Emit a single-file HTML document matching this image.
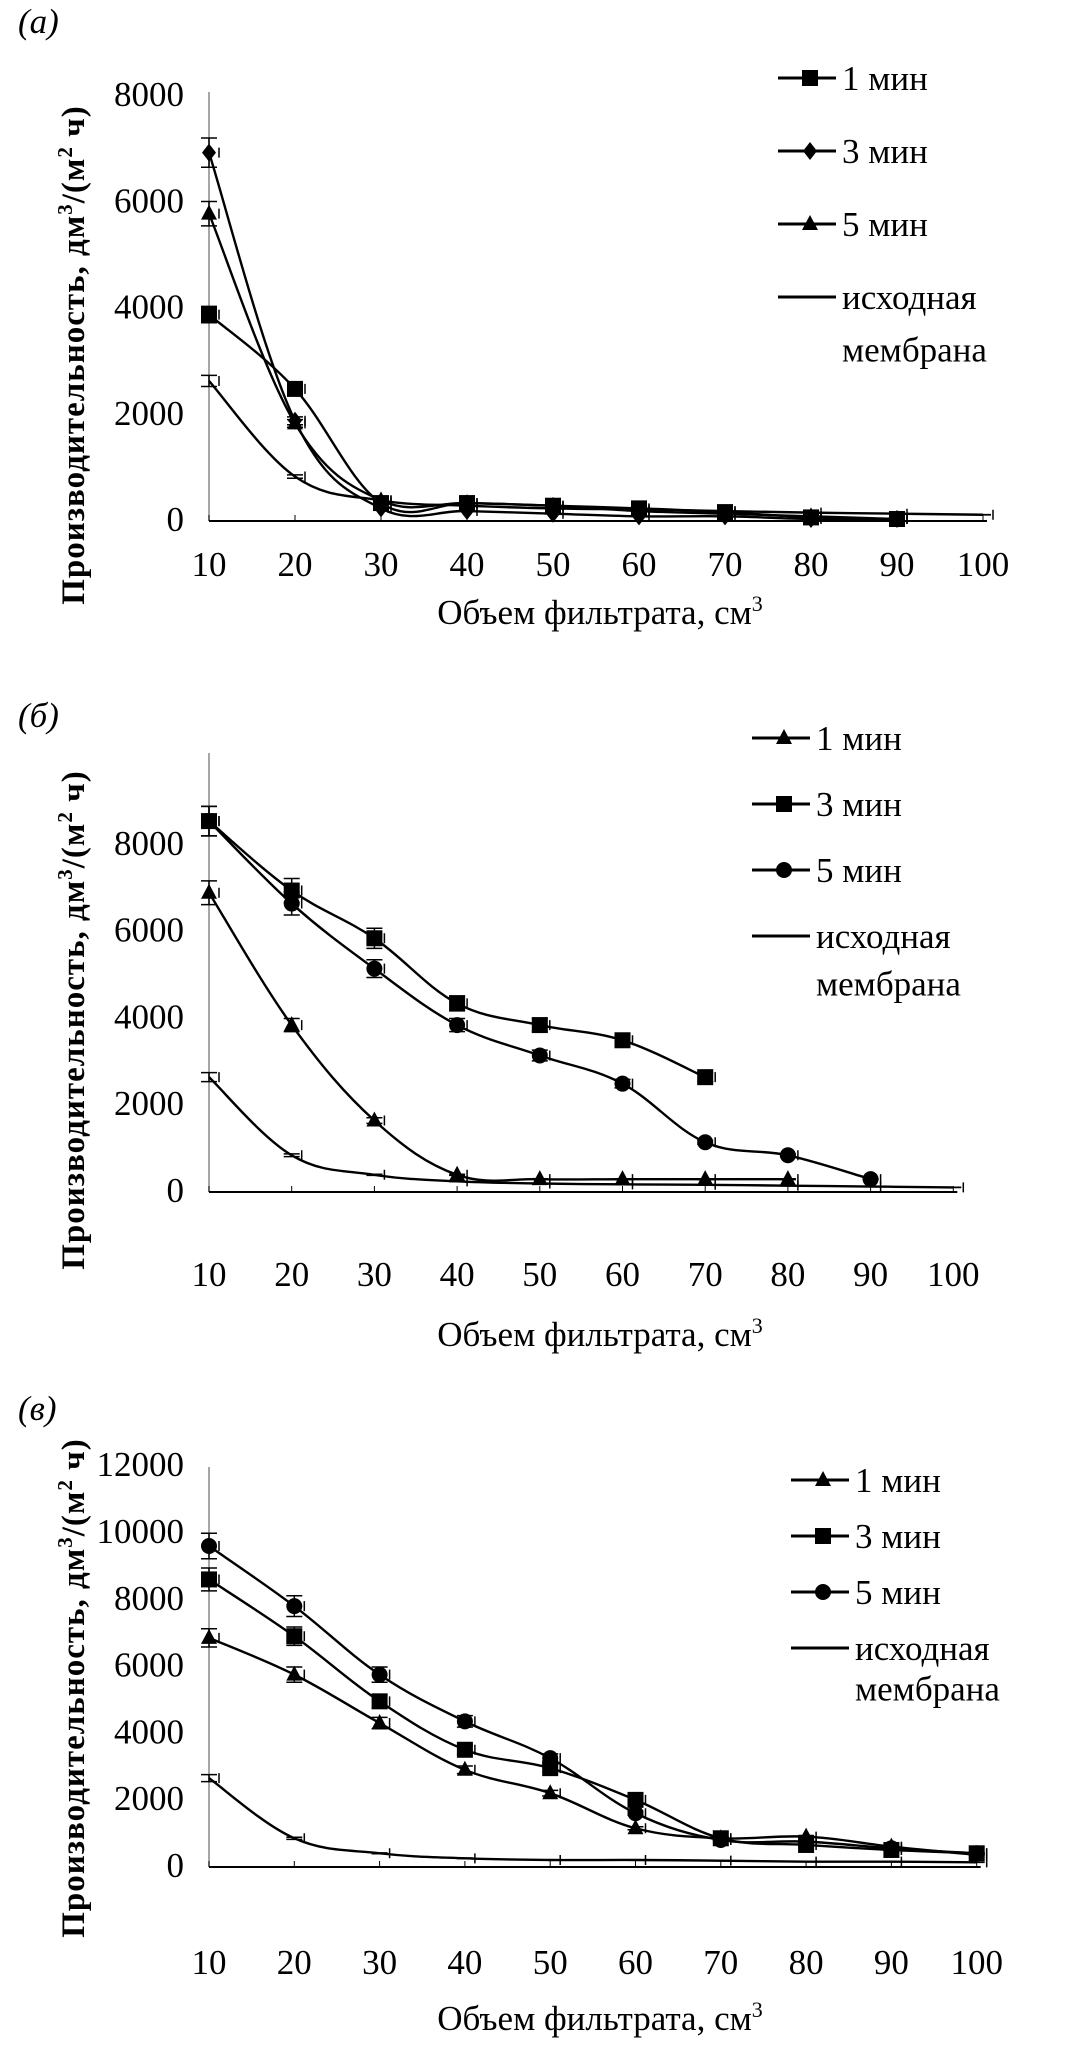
<!DOCTYPE html>
<html><head><meta charset="utf-8"><style>
body{margin:0;background:#fff;}
svg{display:block;font-family:"Liberation Serif",serif;}
</style></head>
<body>
<svg id="s" width="1085" height="2061" viewBox="0 0 1085 2061"></svg>
<script>
const xCats=[10,20,30,40,50,60,70,80,90,100];
// Panel a
const aS1=[3850,2450,300,300,250,200,130,30,0];
const aS3=[6900,1850,200,150,100,50,50,0,0];
const aS5=[5750,1800,350,300,250,150,100,50,0];
const aBase=[2600,800,350,250,200,180,150,120,100,80];
const aTicks=[0,2000,4000,6000,8000];
// Panel b
const bS1=[6850,3800,1600,350,250,250,250,250];
const bS3=[8500,6900,5800,4300,3800,3450,2600];
const bS5=[8500,6600,5100,3800,3100,2450,1100,800,250];
const bBase=[2600,800,350,200,150,130,120,100,80,60];
const bTicks=[0,2000,4000,6000,8000];
// Panel c
const cS1=[6800,5700,4250,2850,2150,1100,800,850,550,300];
const cS3=[8550,6850,4900,3450,2900,1950,800,600,450,350];
const cS5=[9550,7750,5700,4300,3200,1550,750,700,500,350];
const cBase=[2600,800,350,200,150,150,130,100,100,80];
const cTicks=[0,2000,4000,6000,8000,10000,12000];

const NS="http://www.w3.org/2000/svg";
const svg=document.getElementById('s');
const FS=35;
function el(tag,attrs,parent){const e=document.createElementNS(NS,tag);for(const k in attrs)e.setAttribute(k,attrs[k]);(parent||svg).appendChild(e);return e;}
function txt(s,attrs,parent){const e=el('text',attrs,parent);e.textContent=s;return e;}
function smooth(pts){let d='M'+pts[0][0]+','+pts[0][1];for(let i=0;i<pts.length-1;i++){const p0=pts[i-1]||pts[i],p1=pts[i],p2=pts[i+1],p3=pts[i+2]||p2;const t=0.18;d+=' C'+(p1[0]+(p2[0]-p0[0])*t)+','+(p1[1]+(p2[1]-p0[1])*t)+' '+(p2[0]-(p3[0]-p1[0])*t)+','+(p2[1]-(p3[1]-p1[1])*t)+' '+p2[0]+','+p2[1];}return d;}
function marker(g,type,x,y){
 if(type==='sq')el('rect',{x:x-8,y:y-8,width:16,height:16,fill:'#000'},g);
 else if(type==='tri')el('polygon',{points:`${x},${y-9} ${x-8},${y+6} ${x+8},${y+6}`,fill:'#000'},g);
 else if(type==='dia')el('polygon',{points:`${x},${y-9} ${x-7},${y} ${x},${y+9} ${x+7},${y}`,fill:'#000'},g);
 else if(type==='cir')el('circle',{cx:x,cy:y,r:8,fill:'#000'},g);
}
function panel(cfg){
 const g=el('g',{},svg);
 
 
 const X=v=>cfg.x0+(v-10)*cfg.dx/10, Y=v=>cfg.y0-v*cfg.dy/1000;
 const ax=el('line',{x1:X(10),y1:cfg.top,x2:X(10),y2:cfg.y0+2,stroke:'#888','stroke-width':1.5},g);
 
 const bx=el('line',{x1:X(10),y1:cfg.y0+2,x2:X(100)+4,y2:cfg.y0+2,stroke:'#000','stroke-width':2},g);
 
 cfg.ticks.forEach(t=>{const e=txt(String(t),{x:184,y:Y(t)+12,'text-anchor':'end','font-size':FS},g);
  });
 xCats.forEach(c=>{const e=txt(String(c),{x:X(c),y:cfg.xly,'text-anchor':'middle','font-size':FS},g);
  
  el('line',{x1:X(c),y1:cfg.y0-4,x2:X(c),y2:cfg.y0+2,stroke:'#000','stroke-width':1},g);});
 cfg.series.forEach(s=>{
  const pts=s.v.map((v,i)=>[X(xCats[i]),Y(v)]);
  const p=el('path',{d:smooth(pts),fill:'none',stroke:'#000','stroke-width':2.4},g);
  
  pts.forEach((pt,i)=>{const e=Math.max(3,s.v[i]*0.04);
   el('path',{d:`M${pt[0]},${pt[1]-e*cfg.dy/1000}V${pt[1]+e*cfg.dy/1000}M${pt[0]-8},${pt[1]-e*cfg.dy/1000}h16M${pt[0]-8},${pt[1]+e*cfg.dy/1000}h16M${pt[0]+10},${pt[1]-5}v10`,stroke:'#000','stroke-width':1.5,fill:'none'},g);
   if(s.m){const m=el('g',{},g);marker(m,s.m,pt[0],pt[1]);}
  });
 });
 cfg.legend.forEach((l,i)=>{const lg=el('g',{},g);
  const y=cfg.ly+i*cfg.lsp;el('line',{x1:cfg.lx,y1:y,x2:cfg.lx+58,y2:y,stroke:'#000','stroke-width':3},lg);
  if(l.m)marker(lg,l.m,cfg.lx+32,y);
  txt(l.t,{x:cfg.lx+64,y:y+12,'font-size':FS},lg);
  if(l.t2)txt(l.t2,{x:cfg.lx+64,y:y+12+cfg.lsp*0.72,'font-size':FS},lg);});
 const pl=txt(cfg.label[0],{x:18,y:cfg.label[1],'font-size':FS,'font-style':'italic'},g);
 
 const xt=el('text',{x:600,y:cfg.xty,'text-anchor':'middle','font-size':FS},g);
 xt.innerHTML='Объем фильтрата, см<tspan dy="-13" font-size="22">3</tspan>';
 
 const yt=el('text',{x:0,y:0,'text-anchor':'middle','font-size':33,'font-weight':'bold','letter-spacing':'1',transform:`translate(84,${cfg.ytc}) rotate(-90)`},g);
 yt.innerHTML='Производительность, дм<tspan dy="-12" font-size="21">3</tspan><tspan dy="12">/(м</tspan><tspan dy="-12" font-size="21">2</tspan><tspan dy="12"> ч)</tspan>';
 
}
panel({name:'chart-a',x0:209,dx:86,y0:519,dy:53.1,top:92,xly:576,xty:624,ytc:355,ticks:aTicks,label:['(a)',33],
 series:[{id:'base',v:aBase},{id:'min1',v:aS1,m:'sq'},{id:'min3',v:aS3,m:'dia'},{id:'min5',v:aS5,m:'tri'}],
 lx:778,ly:78,lsp:73,legend:[{t:'1 мин',m:'sq'},{t:'3 мин',m:'dia'},{t:'5 мин',m:'tri'},{t:'исходная',t2:'мембрана'}]});
panel({name:'chart-b',x0:209,dx:82.7,y0:1190,dy:43.4,top:753,xly:1286,xty:1346,ytc:1020,ticks:bTicks,label:['(б)',727],
 series:[{id:'base',v:bBase},{id:'min1',v:bS1,m:'tri'},{id:'min3',v:bS3,m:'sq'},{id:'min5',v:bS5,m:'cir'}],
 lx:752,ly:738,lsp:66,legend:[{t:'1 мин',m:'tri'},{t:'3 мин',m:'sq'},{t:'5 мин',m:'cir'},{t:'исходная',t2:'мембрана'}]});
panel({name:'chart-c',x0:209,dx:85.3,y0:1865,dy:33.4,top:1467,xly:1974,xty:2030,ytc:1688,ticks:cTicks,label:['(в)',1420],
 series:[{id:'base',v:cBase},{id:'min1',v:cS1,m:'tri'},{id:'min3',v:cS3,m:'sq'},{id:'min5',v:cS5,m:'cir'}],
 lx:791,ly:1480,lsp:56,legend:[{t:'1 мин',m:'tri'},{t:'3 мин',m:'sq'},{t:'5 мин',m:'cir'},{t:'исходная',t2:'мембрана'}]});
</script>
</body></html>
